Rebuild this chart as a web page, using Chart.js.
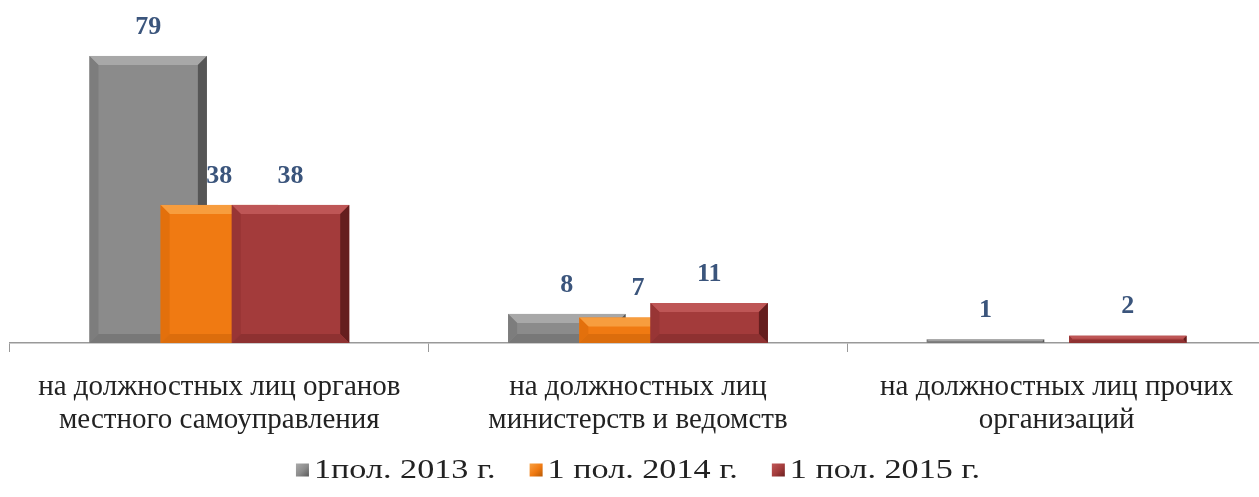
<!DOCTYPE html>
<html>
<head>
<meta charset="utf-8">
<script src="https://cdn.jsdelivr.net/npm/chart.js@4.4.0/dist/chart.umd.min.js"></script>
<style>
  html, body { margin: 0; padding: 0; background: #fff; overflow: hidden; }
  canvas { display: block; }
</style>
</head>
<body>
<canvas id="chart" width="1266" height="497"></canvas>
<script>
// data
const categories = [
  ["на должностных лиц органов", "местного самоуправления"],
  ["на должностных лиц", "министерств и ведомств"],
  ["на должностных лиц прочих", "организаций"]
];
const seriesNames = ["1пол. 2013 г.", "1 пол. 2014 г.", "1 пол. 2015 г."];
const values2013 = [79, 8, 1];
const values2014 = [38, 7, 0];
const values2015 = [38, 11, 2];

const palette = [
  { base: "#8b8b8b", light: "#a8a8a8", side: "#7d7d7d", dark: "#565656", bottom: "#787878" },
  { base: "#f07a12", light: "#f79d3e", side: "#e3700c", dark: "#b35805", bottom: "#dc6d0c" },
  { base: "#a33b3b", light: "#be5656", side: "#983535", dark: "#651e1e", bottom: "#8e3131" }
];

function poly(ctx, pts, color) {
  ctx.beginPath();
  ctx.moveTo(pts[0][0], pts[0][1]);
  for (let i = 1; i < pts.length; i++) ctx.lineTo(pts[i][0], pts[i][1]);
  ctx.closePath();
  ctx.fillStyle = color;
  ctx.fill();
}

function bevelBar(ctx, left, top, right, bottom, c) {
  const h = bottom - top;
  if (h <= 0) return;
  const b = Math.min(9, h / 2.5, (right - left) / 4);
  ctx.fillStyle = c.base;
  ctx.fillRect(left, top, right - left, h);
  poly(ctx, [[left, top], [right, top], [right - b, top + b], [left + b, top + b]], c.light);
  poly(ctx, [[left, top], [left + b, top + b], [left + b, bottom - b], [left, bottom]], c.side);
  poly(ctx, [[right, top], [right, bottom], [right - b, bottom - b], [right - b, top + b]], c.dark);
  poly(ctx, [[left, bottom], [left + b, bottom - b], [right - b, bottom - b], [right, bottom]], c.bottom);
}

// draw series left to right so the later bar sits on top of the earlier one
const barsPlugin = {
  id: "bars",
  beforeDatasetsDraw(chart) {
    const ctx = chart.ctx;
    ctx.save();
    chart.data.datasets.forEach((ds, i) => {
      const meta = chart.getDatasetMeta(i);
      meta.data.forEach((bar) => {
        const p = bar.getProps(["x", "y", "base", "width"], true);
        bevelBar(ctx, p.x - p.width / 2, p.y, p.x + p.width / 2, p.base, palette[i]);
      });
    });
    ctx.font = "bold 26px 'Liberation Serif'";
    ctx.fillStyle = "#3b557c";
    ctx.textAlign = "center";
    ctx.textBaseline = "middle";
    chart.data.datasets.forEach((ds, i) => {
      const meta = chart.getDatasetMeta(i);
      meta.data.forEach((bar, j) => {
        if (!ds.data[j]) return;
        const p = bar.getProps(["x", "y"], true);
        ctx.fillText(String(ds.data[j]), p.x, p.y - 29);
      });
    });
    ctx.restore();
    return false;
  }
};

// legend drawn by hand: small square, short gap, wide serif text
const legendPlugin = {
  id: "handLegend",
  afterDraw(chart) {
    const ctx = chart.ctx;
    const sx = 1.22, box = 13, boxGap = 5, itemGap = 34;
    ctx.save();
    ctx.font = "28px 'Liberation Serif'";
    const widths = seriesNames.map(t => ctx.measureText(t).width * sx);
    const total = widths.reduce((a, w) => a + box + boxGap + w, 0) + itemGap * (widths.length - 1);
    const cx = (chart.chartArea.left + chart.chartArea.right) / 2;
    const y = chart.height - 26;
    let x = cx - total / 2;
    seriesNames.forEach((name, i) => {
      const g = ctx.createLinearGradient(x, y - box / 2, x + box, y + box / 2);
      g.addColorStop(0, palette[i].light);
      g.addColorStop(0.5, palette[i].base);
      g.addColorStop(1, palette[i].dark);
      ctx.fillStyle = g;
      ctx.fillRect(x, y - box / 2 - 1, box, box);
      x += box + boxGap;
      ctx.save();
      ctx.translate(x, y);
      ctx.scale(sx, 1);
      ctx.fillStyle = "#222";
      ctx.textAlign = "left";
      ctx.textBaseline = "middle";
      ctx.fillText(name, 0, 0);
      ctx.restore();
      x += widths[i] + itemGap;
    });
    ctx.restore();
  }
};

new Chart(document.getElementById("chart"), {
  type: "bar",
  data: {
    labels: categories,
    datasets: [values2013, values2014, values2015].map((vals, i) => ({
      label: seriesNames[i],
      data: vals,
      backgroundColor: palette[i].base,
      borderWidth: 0,
      categoryPercentage: 0.51,
      barPercentage: 1.65
    }))
  },
  options: {
    responsive: false,
    animation: false,
    layout: { padding: { top: 16, left: 10, right: 0, bottom: 41 } },
    scales: {
      x: {
        grid: { display: true, drawOnChartArea: false, drawTicks: true, tickLength: 9, color: "#999" },
        border: { display: true, color: "#999", width: 1.5 },
        ticks: {
          color: "#222",
          font: { family: "'Liberation Serif'", size: 29, lineHeight: "33px" },
          padding: 19,
          maxRotation: 0,
          autoSkip: false
        }
      },
      y: { display: false, min: 0, max: 90 }
    },
    plugins: {
      legend: { display: false },
      tooltip: { enabled: false }
    }
  },
  plugins: [barsPlugin, legendPlugin]
});
</script>
</body>
</html>
